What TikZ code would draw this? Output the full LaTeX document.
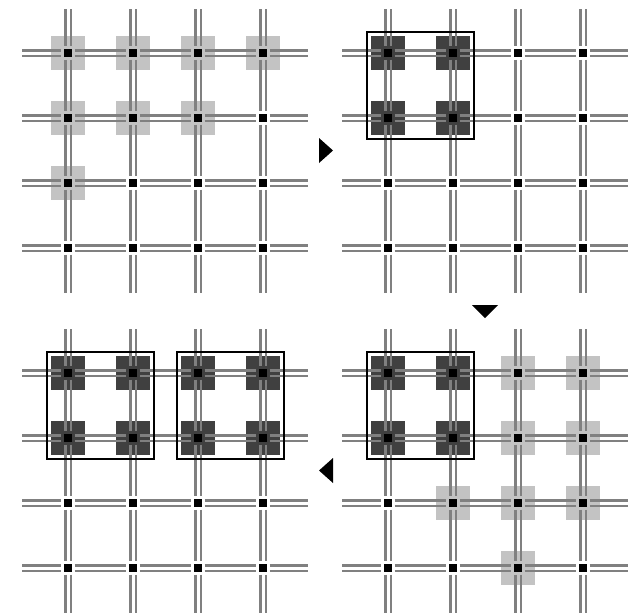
\documentclass[tikz,border=0pt]{standalone}
\usetikzlibrary{fit}
\definecolor{railgray}{RGB}{128,128,128}
\definecolor{cellpale}{RGB}{195,195,195}
\definecolor{celldark}{RGB}{64,64,64}
\pgfdeclarelayer{background}
\pgfsetlayers{background,main}
\newcommand{\railh}[2]{%
  \draw[rail, transform canvas={yshift=2.6pt}] (#1) -- (#2);
  \draw[rail, transform canvas={yshift=-2.6pt}] (#1) -- (#2);}
\newcommand{\railv}[2]{%
  \draw[rail, transform canvas={xshift=2.6pt}] (#1) -- (#2);
  \draw[rail, transform canvas={xshift=-2.6pt}] (#1) -- (#2);}

\begin{document}
\begin{tikzpicture}[x=1pt, y=-1pt,
  junction/.style={rectangle, fill=black, minimum size=8pt, inner sep=0pt},
  rail/.style={draw=railgray, line width=2.2pt, shorten <=2.5pt, shorten >=2.5pt},
  pending/.style={rectangle, fill=cellpale, minimum size=34pt, inner sep=0pt},
  claimed/.style={rectangle, fill=celldark, minimum size=34pt, inner sep=0pt},
  group/.style={rectangle, draw=black, line width=1.8pt, inner sep=16.5pt},
  pointer/.style={fill=black}
]
\useasboundingbox (0,0) rectangle (628,614);
% junctions and free rail ends of the four panels
\foreach \p/\ox/\oy in {a/0/0, b/320/0, c/0/320, d/320/320} {
  \foreach \i in {0,...,3} {
    \foreach \j in {0,...,3}
      \node[junction] (\p\i\j) at ({\ox+68+65*\i}, {\oy+53+65*\j}) {};
    \coordinate (\p w\i) at ({\ox+19.5}, {\oy+53+65*\i});
    \coordinate (\p e\i) at ({\ox+310.5}, {\oy+53+65*\i});
    \coordinate (\p n\i) at ({\ox+68+65*\i}, {\oy+6.5});
    \coordinate (\p s\i) at ({\ox+68+65*\i}, {\oy+295.5});
  }
}
% rails
\foreach \p in {a,b,c,d} {
  \foreach \k in {0,...,3} {
    \railh{\p w\k}{\p0\k}
    \railh{\p3\k}{\p e\k}
    \railv{\p n\k}{\p\k0}
    \railv{\p\k3}{\p s\k}
    \foreach \i [count=\n] in {0,1,2} {
      \railh{\p\i\k}{\p\n\k}
      \railv{\p\k\i}{\p\k\n}
    }
  }
}
% cells
\begin{pgfonlayer}{background}
\foreach \c in {a00,a10,a20,a30,a01,a11,a21,a02,d20,d30,d21,d31,d12,d22,d32,d23}
  \node[pending] at (\c) {};
\foreach \c in {b00,b10,b01,b11,c00,c10,c20,c30,c01,c11,c21,c31,d00,d10,d01,d11}
  \node[claimed] at (\c) {};
\end{pgfonlayer}
% groups
\node[group, fit=(b00)(b11)] (bgrp) {};
\node[group, fit=(c00)(c11)] (cgrpl) {};
\node[group, fit=(c20)(c31)] (cgrpr) {};
\node[group, fit=(d00)(d11)] (dgrp) {};
% step markers
\fill[pointer] (319,138) -- (333,150.5) -- (319,163) -- cycle;
\fill[pointer] (472,305) -- (498,305) -- (485,318) -- cycle;
\fill[pointer] (333,458) -- (319,470.5) -- (333,483) -- cycle;
\end{tikzpicture}
\end{document}
